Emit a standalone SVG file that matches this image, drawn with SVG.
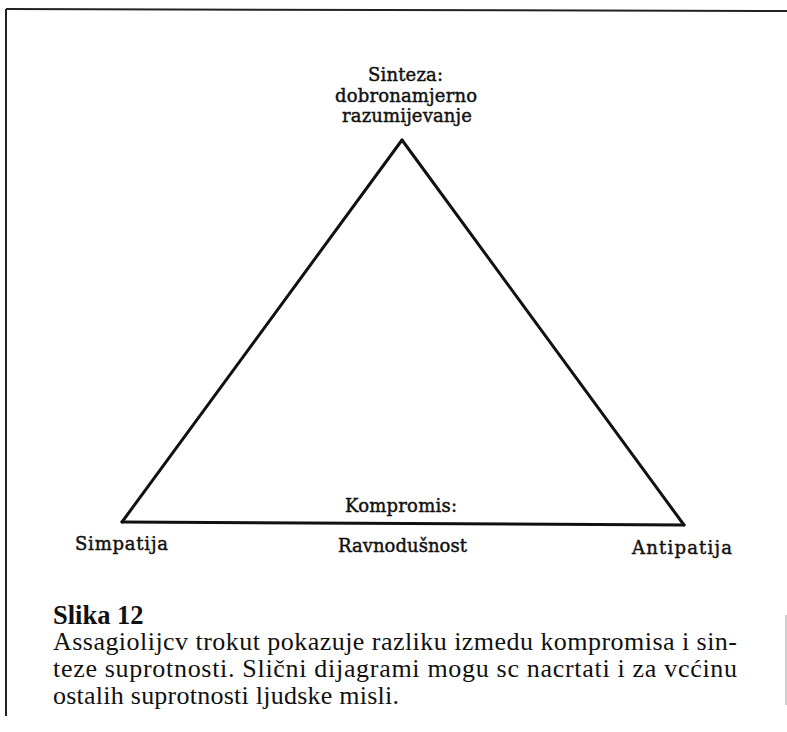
<svg xmlns="http://www.w3.org/2000/svg" width="787" height="732" viewBox="0 0 787 732">
<style>
.lbl{font-family:"DejaVu Serif","Liberation Serif",serif;font-size:18px;fill:#111;stroke:#111;stroke-width:0.45}
.cap{font-family:"Liberation Serif","Times New Roman",serif;font-size:26px;fill:#111}
.capb{font-family:"Liberation Serif","Times New Roman",serif;font-size:26.5px;font-weight:bold;fill:#111}
.edge{fill:none;stroke:#111;stroke-width:3;stroke-linejoin:miter;stroke-linecap:round}
.frame{fill:none;stroke:#222;stroke-width:2}
</style>
<rect width="787" height="732" fill="#fff"/>
<g id="frame">
<path class="frame" d="M6,9 L787,11"/>
<path class="frame" d="M6,9 L6,716"/>
<path d="M786,615 L786,705" stroke="#ccc" stroke-width="2"/>
</g>
<g id="connectors">
<path class="edge" d="M402,140 L684,525"/>
<path class="edge" d="M402,140 L122,522"/>
<path class="edge" d="M122,522 L684,525"/>
</g>
<g id="node-sinteza">
<text class="lbl" x="368" y="81" textLength="75">Sinteza:</text>
<text class="lbl" x="335" y="102" textLength="142">dobronamjerno</text>
<text class="lbl" x="342" y="122" textLength="130">razumijevanje</text>
</g>
<g id="node-kompromis">
<text class="lbl" x="345" y="512" textLength="112">Kompromis:</text>
<text class="lbl" x="338" y="552" textLength="129">Ravnodušnost</text>
</g>
<g id="node-simpatija">
<text class="lbl" x="75" y="550" textLength="93">Simpatija</text>
</g>
<g id="node-antipatija">
<text class="lbl" x="632" y="554" textLength="100">Antipatija</text>
</g>
<g id="caption">
<text class="capb" x="53" y="624">Slika 12</text>
<text class="cap" x="53" y="650" textLength="684">Assagiolijcv trokut pokazuje razliku izmedu kompromisa i sin-</text>
<text class="cap" x="53" y="677" textLength="684">teze suprotnosti. Slični dijagrami mogu sc nacrtati i za vcćinu</text>
<text class="cap" x="53" y="704" textLength="346">ostalih suprotnosti ljudske misli.</text>
</g>
</svg>
